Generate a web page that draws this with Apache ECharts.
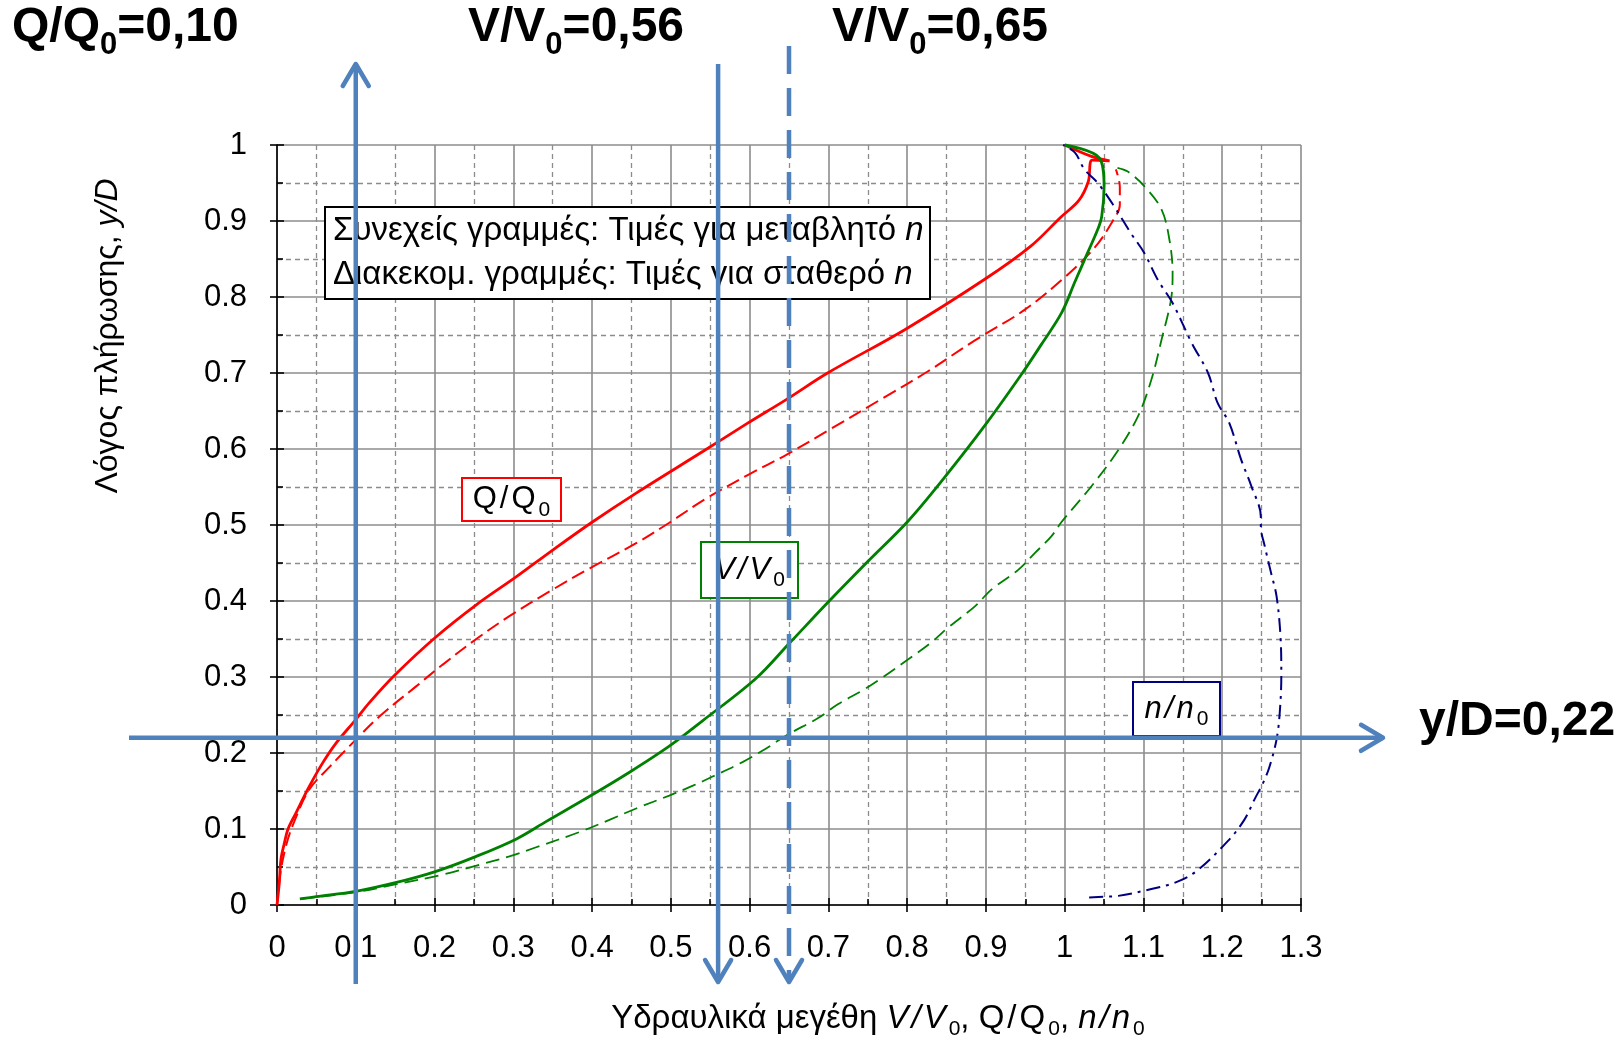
<!DOCTYPE html>
<html>
<head>
<meta charset="utf-8">
<script src="https://cdn.jsdelivr.net/npm/echarts@6/dist/echarts.min.js"></script>
<style>
html, body { margin: 0; padding: 0; background: #ffffff; }
#chart { width: 1624px; height: 1043px; }
</style>
</head>
<body>
<div id="chart"></div>
<script>
// Partial-flow hydraulic elements of a circular pipe: [ratio, y/D]
const qVariable = [
  [0, 0], [0.003, 0.03], [0.005, 0.06], [0.0095, 0.082], [0.014, 0.1], [0.024, 0.121],
  [0.041, 0.156], [0.058, 0.187], [0.075, 0.213], [0.1, 0.244], [0.117, 0.266],
  [0.149, 0.302], [0.201, 0.352], [0.253, 0.395], [0.304, 0.432], [0.35, 0.467],
  [0.399, 0.503], [0.456, 0.542], [0.541, 0.597], [0.596, 0.633], [0.648, 0.666],
  [0.699, 0.7], [0.797, 0.757], [0.898, 0.823], [0.957, 0.867], [0.995, 0.905],
  [1.018, 0.927], [1.03, 0.952], [1.035, 0.98], [1.057, 0.979], [1.034, 0.985], [1.0, 1.0]
];
const qConstant = [
  [0, 0], [0.004, 0.04], [0.012, 0.08], [0.022, 0.11], [0.041, 0.152], [0.067, 0.182],
  [0.092, 0.209], [0.13, 0.248], [0.177, 0.288], [0.21, 0.316], [0.253, 0.35],
  [0.295, 0.38], [0.35, 0.415], [0.397, 0.443], [0.456, 0.476], [0.498, 0.503],
  [0.545, 0.535], [0.6, 0.567], [0.646, 0.592], [0.699, 0.624], [0.771, 0.668],
  [0.826, 0.702], [0.886, 0.743], [0.949, 0.783], [1.0, 0.826], [1.038, 0.865],
  [1.061, 0.9], [1.07, 0.921], [1.07, 0.945], [1.065, 0.968]
];
const vVariable = [
  [0.029, 0.008], [0.05, 0.011], [0.1, 0.018], [0.149, 0.029], [0.201, 0.044],
  [0.253, 0.064], [0.304, 0.087], [0.342, 0.11], [0.397, 0.143], [0.448, 0.175],
  [0.498, 0.209], [0.541, 0.243], [0.608, 0.298], [0.651, 0.345], [0.701, 0.4],
  [0.75, 0.452], [0.801, 0.505], [0.847, 0.562], [0.898, 0.63], [0.945, 0.698],
  [0.97, 0.737], [0.996, 0.779], [1.013, 0.82], [1.029, 0.858], [1.042, 0.889],
  [1.047, 0.906], [1.05, 0.945], [1.044, 0.983], [1.0, 1.0]
];
const vConstant = [
  [0.03, 0.008], [0.1, 0.017], [0.15, 0.027], [0.21, 0.04], [0.257, 0.053],
  [0.295, 0.064], [0.329, 0.076], [0.384, 0.096], [0.422, 0.112], [0.456, 0.127],
  [0.498, 0.144], [0.528, 0.157], [0.553, 0.169], [0.591, 0.188], [0.621, 0.206],
  [0.648, 0.224], [0.687, 0.246], [0.712, 0.264], [0.746, 0.284], [0.771, 0.301],
  [0.801, 0.323], [0.83, 0.345], [0.852, 0.365], [0.886, 0.393], [0.907, 0.415],
  [0.941, 0.441], [0.962, 0.463], [0.983, 0.485], [0.996, 0.504], [1.034, 0.551],
  [1.067, 0.597], [1.093, 0.643], [1.11, 0.691], [1.123, 0.744], [1.135, 0.797],
  [1.137, 0.832], [1.133, 0.875], [1.123, 0.915], [1.101, 0.946], [1.08, 0.965],
  [1.067, 0.97]
];
const nRatio = [
  [1.031, 0.01], [1.05, 0.011], [1.068, 0.012], [1.11, 0.021], [1.144, 0.031],
  [1.169, 0.046], [1.207, 0.084], [1.228, 0.112], [1.241, 0.139], [1.252, 0.161],
  [1.26, 0.182], [1.269, 0.218], [1.273, 0.253], [1.275, 0.301], [1.274, 0.353],
  [1.269, 0.406], [1.262, 0.437], [1.254, 0.472], [1.249, 0.498], [1.249, 0.511],
  [1.237, 0.551], [1.224, 0.586], [1.209, 0.634], [1.194, 0.661], [1.182, 0.7],
  [1.161, 0.74], [1.137, 0.792], [1.118, 0.823], [1.101, 0.858], [1.084, 0.884],
  [1.063, 0.919], [1.042, 0.95], [1.025, 0.968], [1.013, 0.99], [0.998, 1.0]
];

// Worked example
const exampleDepth = 0.22;      // y/D
const exampleQ = 0.10;          // Q/Q0
const exampleVVariable = 0.56;  // V/V0, variable n
const exampleVConstant = 0.65;  // V/V0, constant n

const xTickStep = 0.1;
const yTickStep = 0.1;

const FONT = '"Liberation Sans", Arial, sans-serif';
const BLUE = '#4f81bd';
const GRID_COLOR = '#8c8c8c';

const chart = echarts.init(document.getElementById('chart'));

function valueAxis(dim, max, step, withLabels) {
  const isX = dim === 'x';
  return {
    type: 'value', min: 0, max: max, interval: step,
    position: isX ? 'bottom' : 'left',
    axisLine: { show: withLabels, onZero: false, lineStyle: { color: '#000', width: 1.6 } },
    axisTick: { show: true, inside: !withLabels, length: 7, lineStyle: { color: '#000', width: 1.6 } },
    minorTick: { show: !withLabels, splitNumber: 2, length: 6, lineStyle: { color: '#000', width: 1.6 } },
    axisLabel: {
      show: withLabels, fontFamily: FONT, fontSize: 31, color: '#000',
      margin: isX ? 28 : 30
    },
    splitLine: { show: withLabels, lineStyle: { color: GRID_COLOR, width: 1.6 } },
    minorSplitLine: { show: withLabels, lineStyle: { color: GRID_COLOR, width: 1.3, type: [5, 4] } }
  };
}

function curve(name, data, color, width, type, smooth) {
  return {
    name: name, type: 'line', data: data, xAxisIndex: 0, yAxisIndex: 0,
    showSymbol: false, clip: false, smooth: smooth, animation: false, z: 3,
    lineStyle: { color: color, width: width, type: type, cap: 'butt' }
  };
}

chart.setOption({
  animation: false,
  backgroundColor: '#ffffff',
  grid: { left: 277, top: 145, width: 1024, height: 760, containLabel: false },
  xAxis: [valueAxis('x', 1.3, xTickStep, true), valueAxis('x', 1.3, xTickStep, false)],
  yAxis: [valueAxis('y', 1, yTickStep, true), valueAxis('y', 1, yTickStep, false)],
  series: [
    curve('Q/Q0 μεταβλητό n', qVariable, '#ff0000', 2.8, 'solid', 0.35),
    curve('Q/Q0 σταθερό n', qConstant, '#ff0000', 2, [14, 6], 0.35),
    curve('V/V0 μεταβλητό n', vVariable, '#008000', 2.8, 'solid', 0.35),
    curve('V/V0 σταθερό n', vConstant, '#008000', 1.8, [14, 7], 0.35),
    curve('n/n0', nRatio, '#000080', 2, [14, 6, 3, 6], 0.35)
  ]
});

const px = (x, y) => chart.convertToPixel({ gridIndex: 0 }, [x, y]);

// Chevron arrow head at (tx, ty) pointing along (dx, dy)
function arrowHead(tx, ty, dx, dy) {
  const back = 22, spread = 13;
  const nx = -dy, ny = dx;
  return {
    type: 'polyline', z: 50,
    shape: { points: [
      [tx - dx * back + nx * spread, ty - dy * back + ny * spread],
      [tx, ty],
      [tx - dx * back - nx * spread, ty - dy * back - ny * spread]
    ] },
    style: { stroke: BLUE, lineWidth: 4.5, fill: null, lineCap: 'round', lineJoin: 'round' }
  };
}
function blueLine(x1, y1, x2, y2, dashed) {
  return {
    type: 'line', z: 50,
    shape: { x1: x1, y1: y1, x2: x2, y2: y2 },
    style: { stroke: BLUE, lineWidth: 4.5, lineDash: dashed ? [28, 14] : null }
  };
}

const xQ = px(exampleQ, 0)[0];
const xVv = px(exampleVVariable, 0)[0];
const xVc = px(exampleVConstant, 0)[0];
const yD = px(0, exampleDepth)[1];

const boldRich = {
  a: { fontFamily: FONT, fontWeight: 'bold', fontSize: 48, color: BLUE, lineHeight: 66 },
  s: { fontFamily: FONT, fontWeight: 'bold', fontSize: 31, color: BLUE, lineHeight: 31, verticalAlign: 'bottom' }
};
function boldText(x, y, text) {
  return { type: 'text', z: 50, x: x, y: y,
    style: { text: text, rich: boldRich, align: 'left', verticalAlign: 'middle' } };
}

// Boxed curve name such as Q/Q0, with spaced slash and subscript zero
function boxedLabel(x, y, w, h, color, sym, italic) {
  const base = { fontFamily: FONT, fontSize: 31, fontStyle: italic ? 'italic' : 'normal', color: color, lineHeight: 42 };
  return [
    { type: 'rect', z: 10, shape: { x: x, y: y, width: w, height: h },
      style: { fill: '#ffffff', stroke: color, lineWidth: 2 } },
    { type: 'text', z: 11, x: x + w / 2, y: y + h / 2,
      style: {
        text: '{a|' + sym + '}{sl|/}{a|' + sym + '}{s|0}', align: 'center', verticalAlign: 'middle',
        rich: {
          a: base,
          sl: Object.assign({}, base, { padding: [0, 3, 0, 3] }),
          s: { fontFamily: FONT, fontSize: 21, color: color, lineHeight: 22, verticalAlign: 'bottom', padding: [0, 0, 0, 3] }
        }
      } }
  ];
}

const TITLE_SIZE = 33;
const labelRich = {
  t: { fontFamily: FONT, fontSize: TITLE_SIZE, color: '#000', lineHeight: 42 },
  i: { fontFamily: FONT, fontSize: TITLE_SIZE, fontStyle: 'italic', color: '#000', lineHeight: 42 },
  sl: { fontFamily: FONT, fontSize: TITLE_SIZE, fontStyle: 'italic', color: '#000', lineHeight: 42, padding: [0, 3, 0, 3] },
  su: { fontFamily: FONT, fontSize: TITLE_SIZE, color: '#000', lineHeight: 42, padding: [0, 3, 0, 3] },
  s: { fontFamily: FONT, fontSize: 21, color: '#000', lineHeight: 22, verticalAlign: 'bottom', padding: [0, 0, 0, 3] }
};
const yTitleRich = {
  t: { fontFamily: FONT, fontSize: 32, color: '#000', lineHeight: 40 },
  i: { fontFamily: FONT, fontSize: 32, fontStyle: 'italic', color: '#000', lineHeight: 40 }
};

const legendRich = {
  t: { fontFamily: FONT, fontSize: 33, color: '#000', lineHeight: 44 },
  i: { fontFamily: FONT, fontSize: 33, fontStyle: 'italic', color: '#000', lineHeight: 44 }
};

const graphics = [
  // legend of line styles
  { type: 'rect', z: 10, shape: { x: 325, y: 207, width: 605, height: 92 },
    style: { fill: '#ffffff', stroke: '#000000', lineWidth: 2 } },
  { type: 'text', z: 11, x: 333, y: 253,
    style: {
      text: '{t|Συνεχείς γραμμές: Τιμές για μεταβλητό }{i|n}\n{t|Διακεκομ. γραμμές: Τιμές για σταθερό }{i|n}',
      rich: legendRich, align: 'left', verticalAlign: 'middle'
    } },
  ...boxedLabel(462, 478, 99, 43, '#ff0000', 'Q', false),
  ...boxedLabel(701, 542, 97, 56, '#008000', 'V', true),
  ...boxedLabel(1133, 682, 87, 54, '#000080', 'n', true),

  // axis titles
  { type: 'text', z: 5, x: 108, y: 336, rotation: Math.PI / 2,
    style: { text: '{t|Λόγος πλήρωσης, }{i|y/D}', rich: yTitleRich, align: 'center', verticalAlign: 'middle' } },
  { type: 'text', z: 5, x: 878, y: 1019,
    style: {
      text: '{t|Υδραυλικά μεγέθη }{i|V}{sl|/}{i|V}{s|0}{t|, Q}{su|/}{t|Q}{s|0}{t|, }{i|n}{sl|/}{i|n}{s|0}',
      rich: labelRich, align: 'center', verticalAlign: 'middle'
    } },

  // worked example overlay
  blueLine(xQ, 984, xQ, 66, false), arrowHead(xQ, 64, 0, -1),
  blueLine(xVv, 64, xVv, 980, false), arrowHead(xVv, 982, 0, 1),
  blueLine(xVc, 46, xVc, 980, true), arrowHead(xVc, 982, 0, 1),
  blueLine(129, yD, 1380, yD, false), arrowHead(1383, yD, 1, 0),

  boldText(12, 28, '{a|Q/Q}{s|0}{a|=0,10}'),
  boldText(468, 28, '{a|V/V}{s|0}{a|=0,56}'),
  boldText(832, 28, '{a|V/V}{s|0}{a|=0,65}'),
  boldText(1419, 722, '{a|y/D=0,22}')
];

chart.setOption({ graphic: graphics });
</script>
</body>
</html>
